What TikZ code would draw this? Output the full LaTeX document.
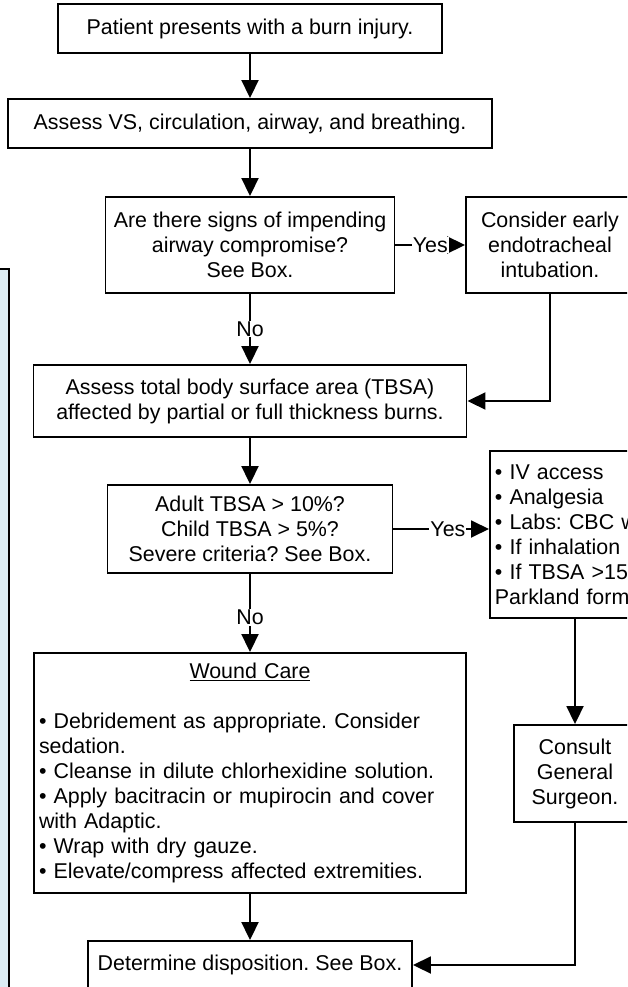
\documentclass[tikz,border=0pt]{standalone}
\usepackage{fontspec}
\setmainfont{Liberation Sans}
\usetikzlibrary{arrows.meta}
\definecolor{noteblue}{RGB}{219,237,244}
\frenchspacing

\begin{document}
\begin{tikzpicture}[
  x=1pt, y=-1pt,
  font=\fontsize{21.4pt}{25pt}\selectfont,
  box/.style  = {draw=black, line width=1.9pt, align=center, inner sep=3pt, fill=white},
  list/.style = {box, align=left, inner xsep=5pt},
  lbl/.style  = {fill=white, inner sep=1pt},
  ar/.style   = {-{Triangle[length=18pt,width=17pt]}, line width=1.9pt},
]
\useasboundingbox (0,0) rectangle (627,987);
\clip (0,0) rectangle (627,987);

% ---- side note (cut off) ---------------------------------------------------
\node[draw, line width=1.9pt, fill=noteblue, minimum width=40pt, minimum height=760pt,
      anchor=north east] (note) at (10,268) {};

% ---- main column -----------------------------------------------------------
\node[box, minimum width=384pt, minimum height=49pt] (burn)   at (250,28.5)  {Patient presents with a burn injury.};
\node[box, minimum width=484pt, minimum height=49pt] (vitals) at (250,123.5) {Assess VS, circulation, airway, and breathing.};
\node[box, minimum width=289pt, minimum height=96pt] (airway) at (250,245)   {Are there signs of impending\\ airway compromise?\\ See Box.};
\node[box, minimum width=433pt, minimum height=72pt] (tbsa)   at (250,401)   {Assess total body surface area (TBSA)\\ affected by partial or full thickness burns.};
\node[box, minimum width=285pt, minimum height=88pt] (severe) at (250,529)   {Adult TBSA > 10\%?\\ Child TBSA > 5\%?\\ Severe criteria? See Box.};
\node[list, text width=422pt, minimum height=240pt] (wound) at (250,773)
  {{\centering\underline{Wound Care}\par}
   \vspace{\baselineskip}
   • Debridement as appropriate. Consider\\ sedation.\\
   • Cleanse in dilute chlorhexidine solution.\\
   • Apply bacitracin or mupirocin and cover\\ with Adaptic.\\
   • Wrap with dry gauze.\\
   • Elevate/compress affected extremities.};
\node[box, minimum width=324pt, minimum height=48pt] (dispo)  at (250,965)   {Determine disposition. See Box.};

% ---- right column ----------------------------------------------------------
\node[box, minimum width=168pt, minimum height=96pt] (intub)   at (550,245)   {Consider early\\ endotracheal\\ intubation.};
\node[list, text width=200pt, minimum height=167pt, anchor=north west] (fluids) at (489,450)
  {• IV access\\ • Analgesia\\ • Labs: CBC w\\ • If inhalation i\\ • If TBSA >15\%\\ Parkland form};
\node[box, minimum width=122pt, minimum height=97pt] (surgeon) at (575,773.5) {Consult\\ General\\ Surgeon.};

% ---- connectors ------------------------------------------------------------
\draw[ar] (burn) -- (vitals);
\draw[ar] (vitals) -- (airway);
\draw[ar] (airway) -- node[lbl]{Yes} (intub);
\draw[ar] (airway) -- node[lbl]{No} (tbsa);
\draw[ar] (intub.south) |- (tbsa.east);
\draw[ar] (tbsa) -- (severe);
\draw[ar] (severe.east) -- node[lbl, pos=0.57]{Yes} (severe.east -| fluids.west);
\draw[ar] (severe) -- node[lbl, pos=0.56]{No} (wound);
\draw[ar] (fluids.south -| surgeon.north) -- (surgeon.north);
\draw[ar] (wound) -- (dispo);
\draw[ar] (surgeon.south) |- (dispo.east);

\end{tikzpicture}
\end{document}
